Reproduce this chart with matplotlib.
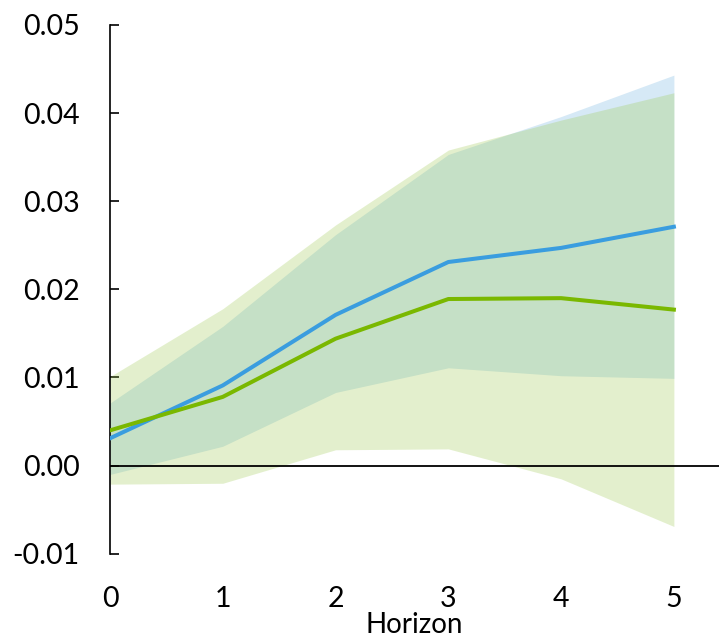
import matplotlib
matplotlib.use("Agg")
import matplotlib.pyplot as plt

horizon = [0, 1, 2, 3, 4, 5]

blue_mean = [0.0031, 0.0091, 0.0171, 0.0231, 0.0247, 0.0271]
blue_upper = [0.0071, 0.0158, 0.0262, 0.0353, 0.0396, 0.0443]
blue_lower = [-0.0010, 0.0022, 0.0083, 0.0111, 0.0102, 0.0099]

green_mean = [0.0040, 0.0078, 0.0144, 0.0189, 0.0190, 0.0177]
green_upper = [0.0101, 0.0178, 0.0273, 0.0358, 0.0392, 0.0423]
green_lower = [-0.0021, -0.0020, 0.0018, 0.0019, -0.0015, -0.0069]

yticks = [-0.01, 0.00, 0.01, 0.02, 0.03, 0.04, 0.05]
ytick_labels = ["-0.01", "0.00", "0.01", "0.02", "0.03", "0.04", "0.05"]

plt.rcParams['font.family'] = ['Lato', 'DejaVu Sans']

fig = plt.figure(figsize=(7.19, 6.38), dpi=100)
ax = fig.add_axes([0.153, 0.132, 0.847, 0.829])

ax.fill_between(horizon, blue_lower, blue_upper, color="#d6e9f6", linewidth=0, zorder=1)
ax.fill_between(horizon, green_lower, green_upper, color=(155/255, 201/255, 76/255),
                alpha=0.28, linewidth=0, zorder=2)

ax.axhline(0, color="black", linewidth=1.3, zorder=3)

ax.plot(horizon, blue_mean, color="#3a9ddf", linewidth=2.9, zorder=4)
ax.plot(horizon, green_mean, color="#7ab800", linewidth=2.9, zorder=5)

ax.set_xlim(0, 5.4)
ax.set_ylim(-0.01, 0.05)
ax.set_yticks(yticks)
ax.set_yticklabels(ytick_labels)
ax.set_xticks(horizon)

for s in ["top", "right", "bottom"]:
    ax.spines[s].set_visible(False)
ax.spines["left"].set_linewidth(1.2)

ax.tick_params(axis="y", direction="in", length=6.5, width=1.2, pad=22, labelsize=20.5)
ax.tick_params(axis="x", length=0, pad=23, labelsize=20.5)

ax.set_xlabel("Horizon", fontsize=20, labelpad=0)

fig.savefig("out.png", dpi=100, facecolor="white")
